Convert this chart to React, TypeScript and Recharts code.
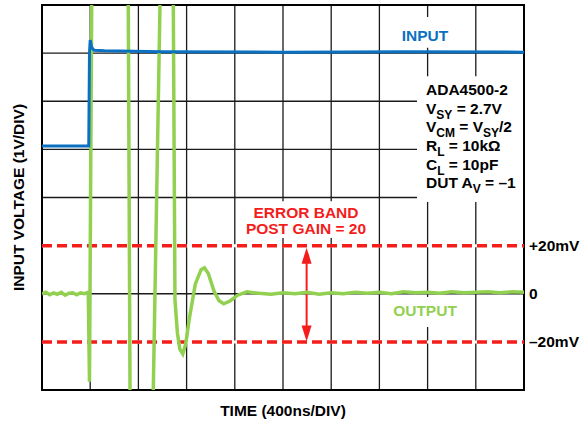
import {
  Line,
  LineChart,
  ReferenceArea,
  ReferenceDot,
  ReferenceLine,
  XAxis,
  YAxis,
} from "recharts";

// grid divisions: 10 time divs, 8 voltage divs
const xTicks = [0, 1, 2, 3, 4, 5, 6, 7, 8, 9, 10];
const yTicks = [0, 1, 2, 3, 4, 5, 6, 7, 8];

// input step (in divisions)
const inputTime = [0, 0.97, 0.985, 1.0, 1.03, 1.08, 1.3, 2.5, 5, 7.5, 10];
const inputLevel = [5.07, 5.07, 7.0, 7.27, 7.12, 7.06, 7.05, 7.03, 7.02, 7.03, 7.02];

// output (post gain) trace
const outputTime = [
  0, 0.08, 0.16, 0.24, 0.32, 0.4, 0.48, 0.56, 0.64, 0.72, 0.8, 0.88, 0.96,
  0.985, 1.031, 1.06, 1.77, 1.79, 1.826, 1.84, 2.28, 2.309, 2.448, 2.47, 2.7,
  2.724, 2.759, 2.81, 2.86, 2.92, 2.98, 3.06, 3.18, 3.3, 3.37, 3.45, 3.57,
  3.67, 3.77, 3.9, 4.06, 4.25, 4.5, 4.75, 5, 5.25, 5.5, 5.75, 6, 6.25, 6.5,
  6.75, 7, 7.25, 7.5, 7.75, 8, 8.25, 8.5, 8.75, 9, 9.25, 9.5, 9.75, 10,
];
const outputLevel = [
  2.0, 2.03, 1.98, 2.02, 1.99, 2.03, 1.97, 2.01, 2.02, 1.98, 2.02, 2.0, 2.03,
  0.17, 8.0, 10.5, 10.5, 8.0, 0, -2.5, -1.5, 0, 8.0, 10.5, 10.5,
  8.0, 1.87, 1.18, 0.85, 0.75, 0.95, 1.5, 2.2, 2.5, 2.54, 2.42, 2.05,
  1.86, 1.79, 1.85, 1.97, 2.04, 2.01, 1.99, 2.02, 2.0, 2.03, 1.99, 2.02, 2.0, 2.03,
  2.01, 2.03, 2.0, 2.04, 2.02, 2.03, 2.01, 2.04, 2.02, 2.03, 2.04, 2.02, 2.04, 2.03,
];

// error band limits and their labels on the right
const bandTicks = [3, 2, 1];
const bandLabels = ["+20mV", "0", "\u201320mV"];
const bandLimits = [3, 1];

// one table for the chart, joined on time
const times = Array.from(new Set([...inputTime, ...outputTime])).sort((a, b) => a - b);
const data = times.map((t) => {
  const i = inputTime.indexOf(t);
  const o = outputTime.indexOf(t);
  return {
    t,
    input: i >= 0 ? inputLevel[i] : null,
    output: o >= 0 ? outputLevel[o] : null,
  };
});

const FONT = "'Liberation Sans', Arial, sans-serif";
const BLUE = "#0a70c2";
const GREEN = "#92d050";
const RED = "#f51c1c";
const GRID = "#1a1a1a";
const FS = 15.5;

function SideTitle({ viewBox }: any) {
  const { x, y, height } = viewBox;
  return (
    <text
      transform={`translate(${x + 23.5}, ${y + height / 2}) rotate(-90)`}
      textAnchor="middle"
      fontFamily={FONT}
      fontWeight="bold"
      fontSize={FS}
      fill="#000"
    >
      INPUT VOLTAGE (1V/DIV)
    </text>
  );
}

function BottomTitle({ viewBox }: any) {
  const { x, y, width } = viewBox;
  return (
    <text
      x={x + width / 2}
      y={y + 26}
      textAnchor="middle"
      fontFamily={FONT}
      fontWeight="bold"
      fontSize={FS}
      fill="#000"
    >
      TIME (400ns/DIV)
    </text>
  );
}

const tag = (text: string, color: string) => (props: any) => (
  <text
    x={props.cx}
    y={props.cy}
    textAnchor="middle"
    fontFamily={FONT}
    fontWeight="bold"
    fontSize={FS}
    fill={color}
  >
    {text}
  </text>
);

const sideTag = (text: string) => (props: any) => (
  <text
    x={props.cx + 5}
    y={props.cy + 5.5}
    textAnchor="start"
    fontFamily={FONT}
    fontWeight="bold"
    fontSize={FS}
    fill="#000"
  >
    {text}
  </text>
);

function Sub({ children }: { children: string }) {
  return (
    <tspan dy={5} fontSize={12}>
      {children}
    </tspan>
  );
}

function Conditions(props: any) {
  const { cx, cy } = props;
  const gap = 18.7;
  const common = {
    fontFamily: FONT,
    fontWeight: "bold",
    fontSize: FS,
    fill: "#000",
  };
  // subscripts shift down, the text after them shifts back up
  const back = (s: string) => <tspan dy={-5}>{s}</tspan>;
  return (
    <g>
      <text {...common} x={cx} y={cy}>ADA4500-2</text>
      <text {...common} x={cx} y={cy + gap}>
        V<Sub>SY</Sub>{back(" = 2.7V")}
      </text>
      <text {...common} x={cx} y={cy + gap * 2}>
        V<Sub>CM</Sub>{back(" = V")}<Sub>SY</Sub>{back("/2")}
      </text>
      <text {...common} x={cx} y={cy + gap * 3}>
        R<Sub>L</Sub>{back(" = 10kΩ")}
      </text>
      <text {...common} x={cx} y={cy + gap * 4}>
        C<Sub>L</Sub>{back(" = 10pF")}
      </text>
      <text {...common} x={cx} y={cy + gap * 5}>
        DUT A<Sub>V</Sub>{back(" = \u20131")}
      </text>
    </g>
  );
}

function BandArrow(props: any) {
  const { x1, y1, x2, y2 } = props;
  const top = Math.min(y1, y2) + 2;
  const bottom = Math.max(y1, y2) - 0.5;
  const head = 16;
  const half = 5;
  return (
    <g>
      <line x1={x1} y1={top + head - 2} x2={x2} y2={bottom - head + 2} stroke={RED} strokeWidth={2} />
      <polygon points={`${x1},${top} ${x1 - half},${top + head} ${x1 + half},${top + head}`} fill={RED} />
      <polygon points={`${x1},${bottom} ${x1 - half},${bottom - head} ${x1 + half},${bottom - head}`} fill={RED} />
    </g>
  );
}

export default function App() {
  return (
    <div style={{ position: "absolute", left: 0, top: 0, background: "#fff" }}>
      <LineChart width={582} height={425} data={data} margin={{ top: 5, right: 58, bottom: 0, left: 0 }}>
        <XAxis
          type="number"
          dataKey="t"
          domain={[0, 10]}
          ticks={xTicks}
          allowDataOverflow
          height={35}
          tick={false}
          tickLine={false}
          axisLine={false}
          label={<BottomTitle />}
        />
        <YAxis
          type="number"
          domain={[0, 8]}
          ticks={yTicks}
          allowDataOverflow
          width={42}
          tick={false}
          tickLine={false}
          axisLine={false}
          label={<SideTitle />}
        />

        {/* scope graticule */}
        {xTicks.map((t) => (
          <ReferenceLine key={`gx${t}`} x={t} stroke={GRID} strokeWidth={1.3} zIndex={-60} />
        ))}
        {yTicks.map((v) => (
          <ReferenceLine key={`gy${v}`} y={v} stroke={GRID} strokeWidth={1.3} zIndex={-60} />
        ))}

        {/* white backgrounds behind the annotations */}
        <ReferenceArea x1={7.386} x2={8.506} y1={7.11} y2={7.75} fill="#fff" fillOpacity={1} stroke="none" zIndex={-50} />
        <ReferenceArea x1={7.78} x2={10} y1={3.906} y2={6.52} fill="#fff" fillOpacity={1} stroke="none" zIndex={-50} />
        <ReferenceArea x1={4.12} x2={6.9} y1={3.16} y2={3.92} fill="#fff" fillOpacity={1} stroke="none" zIndex={-50} />
        <ReferenceArea x1={7.28} x2={8.61} y1={1.31} y2={1.93} fill="#fff" fillOpacity={1} stroke="none" zIndex={-50} />

        <ReferenceArea x1={0} x2={10} y1={0} y2={8} fill="none" stroke="#000" strokeWidth={2} zIndex={-40} />

        {bandLimits.map((v) => (
          <ReferenceLine key={`wb${v}`} y={v} stroke="#fff" strokeWidth={3} zIndex={-30} />
        ))}
        {bandLimits.map((v) => (
          <ReferenceLine key={`rb${v}`} y={v} stroke={RED} strokeWidth={3.5} strokeDasharray="10 5" />
        ))}
        <ReferenceLine
          segment={[
            { x: 5.49, y: 1 },
            { x: 5.49, y: 3 },
          ]}
          shape={BandArrow}
        />

        <Line
          dataKey="output"
          type="linear"
          stroke={GREEN}
          strokeWidth={3.5}
          dot={false}
          activeDot={false}
          connectNulls
          isAnimationActive={false}
        />
        <Line
          dataKey="input"
          type="linear"
          stroke={BLUE}
          strokeWidth={3}
          dot={false}
          activeDot={false}
          connectNulls
          isAnimationActive={false}
        />

        <ReferenceDot x={7.946} y={7.262} r={0} shape={tag("INPUT", BLUE)} />
        <ReferenceDot x={7.946} y={1.544} r={0} shape={tag("OUTPUT", GREEN)} />
        <ReferenceDot x={5.477} y={3.568} r={0} shape={tag("ERROR BAND", RED)} />
        <ReferenceDot x={5.477} y={3.235} r={0} shape={tag("POST GAIN = 20", RED)} />
        <ReferenceDot x={7.967} y={6.13} r={0} shape={Conditions} />
        {bandTicks.map((v, i) => (
          <ReferenceDot key={`b${v}`} x={10} y={v} r={0} ifOverflow="visible" shape={sideTag(bandLabels[i])} />
        ))}
      </LineChart>
    </div>
  );
}
